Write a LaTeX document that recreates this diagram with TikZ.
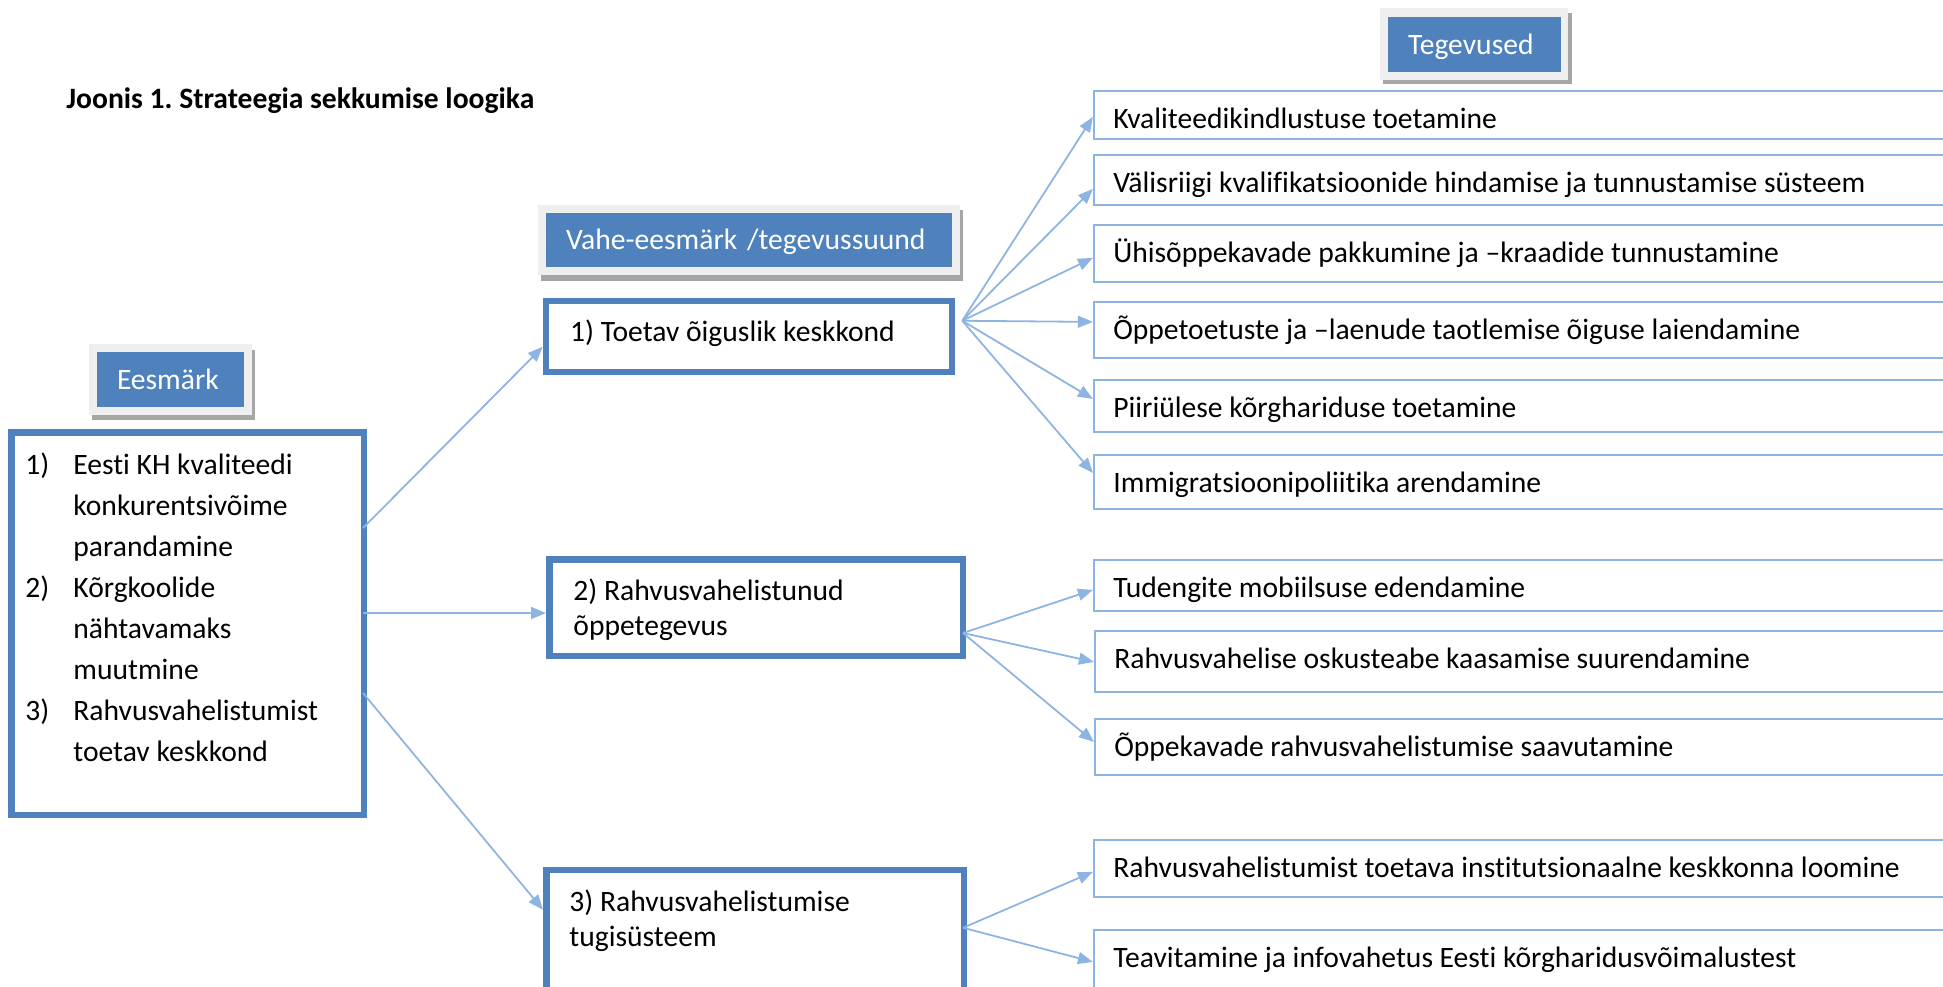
\documentclass[tikz,border=0pt]{standalone}
\usepackage{fontspec}
\setmainfont{Carlito}[Ligatures={NoCommon}]
\usepackage{tikz}
\usetikzlibrary{arrows.meta,calc,positioning,shapes}
\definecolor{accent}{HTML}{4F81BD}
\definecolor{lightacc}{HTML}{8EB4E3}
\definecolor{framegray}{HTML}{EFEFEF}
\definecolor{shadowgray}{HTML}{A6A6A6}
\frenchspacing
\tikzset{%
	headbox/.style = {rectangle, fill=accent, text=white, inner xsep=10pt, inner ysep=0pt, text height=9.5pt, text depth=0pt, align=left, font=\fontsize{14.8}{17}\selectfont},
	mainbox/.style = {rectangle, draw=accent, line width=3.25pt, fill=white, inner sep=0pt},
	taskbox/.style = {rectangle, draw=lightacc, line width=1.1pt, fill=white, inner sep=0pt, minimum width=453pt},
	boxtext/.style = {anchor=base west, inner sep=0pt, font=\fontsize{14.8}{17.5}\selectfont},
	link/.style    = {draw=lightacc, line width=0.9pt, -{Triangle[length=7.5pt,width=6pt]}},
}
\begin{document}
\begin{tikzpicture}[x=0.5pt,y=-0.5pt]
	\useasboundingbox (0,0) rectangle (1943,986);
	\clip (0,0) rectangle (1943,986);
	\node[anchor=base west, inner sep=0pt, font=\bfseries\fontsize{14.8}{17}\selectfont] (title) at (66,108) {Joonis 1. Strateegia sekkumise loogika};
	% headers
	\fill[shadowgray] (92,350) rectangle (255,420);
	\fill[framegray] (89,344) rectangle (252,415);
	\node[headbox, minimum width=73.5pt, minimum height=27.5pt, text width=53.5pt] (hgoal) at (170.5,379.5) {Eesmärk};
	\fill[shadowgray] (541,210) rectangle (963,281);
	\fill[framegray] (538,205) rectangle (960,275);
	\node[headbox, minimum width=203pt, minimum height=27pt, text width=183pt] (hsub) at (749,240) {Vahe-eesmärk /tegevussuund};
	\fill[shadowgray] (1383,13) rectangle (1572,84);
	\fill[framegray] (1380,8) rectangle (1568,80);
	\node[headbox, minimum width=86.5pt, minimum height=27.5pt, text width=66.5pt] (hact) at (1474.5,44.5) {Tegevused};
	% goal
	\node[mainbox, minimum width=176.25pt, minimum height=191.25pt] (goal) at (187.5,623.5) {};
	\node[boxtext, font=\fontsize{14.8}{20.5}\selectfont] (goaltxt) at ($(goal.north west)+(17,45)$) {%
		\begin{tabular}[t]{@{}p{24pt}@{}l@{}}
			1) & Eesti KH kvaliteedi\\
			   & konkurentsivõime\\
			   & parandamine\\
			2) & Kõrgkoolide\\
			   & nähtavamaks\\
			   & muutmine\\
			3) & Rahvusvahelistumist\\
			   & toetav keskkond
		\end{tabular}};
	% sub-goals
	\node[mainbox, minimum width=203pt, minimum height=35.5pt] (b1) at (749,336.5) {};
	\node[boxtext] (b1txt) at ($(b1.north west)+(27,44)$) {1) Toetav õiguslik keskkond};
	\node[mainbox, minimum width=206.75pt, minimum height=48.25pt] (b2) at (756,607.5) {};
	\node[boxtext] (b2txt) at ($(b2.north west)+(27,44)$) {\begin{tabular}[t]{@{}l@{}}2) Rahvusvahelistunud\\õppetegevus\end{tabular}};
	\node[mainbox, minimum width=208.75pt, minimum height=70pt] (b3) at (755,940) {};
	\node[boxtext] (b3txt) at ($(b3.north west)+(26,45)$) {\begin{tabular}[t]{@{}l@{}}3) Rahvusvahelistumise\\tugisüsteem\end{tabular}};
	% activities
	\node[taskbox, minimum height=24pt] (t1) at (1547,115) {};
	\node[taskbox, minimum height=25pt] (t2) at (1547,180) {};
	\node[taskbox, minimum height=28.5pt] (t3) at (1547,253.5) {};
	\node[taskbox, minimum height=28pt] (t4) at (1547,330) {};
	\node[taskbox, minimum height=26pt] (t5) at (1547,406) {};
	\node[taskbox, minimum height=27pt] (t6) at (1547,482) {};
	\node[taskbox, minimum height=25.5pt] (t7) at (1547,585.5) {};
	\node[taskbox, minimum height=30.5pt] (t8) at (1548,661.5) {};
	\node[taskbox, minimum height=28pt] (t9) at (1548,747) {};
	\node[taskbox, minimum height=28.5pt] (t10) at (1547,868.5) {};
	\node[taskbox, minimum height=39.5pt] (t11) at (1547,969.5) {};
	\node[boxtext] (t1txt) at ($(t1.north west)+(20,39)$) {Kvaliteedikindlustuse toetamine};
	\node[boxtext] (t2txt) at ($(t2.north west)+(20,39)$) {Välisriigi kvalifikatsioonide hindamise ja tunnustamise süsteem};
	\node[boxtext] (t3txt) at ($(t3.north west)+(20,39)$) {Ühisõppekavade pakkumine ja –kraadide tunnustamine};
	\node[boxtext] (t4txt) at ($(t4.north west)+(20,39)$) {Õppetoetuste ja –laenude taotlemise õiguse laiendamine};
	\node[boxtext] (t5txt) at ($(t5.north west)+(20,39)$) {Piiriülese kõrghariduse toetamine};
	\node[boxtext] (t6txt) at ($(t6.north west)+(20,39)$) {Immigratsioonipoliitika arendamine};
	\node[boxtext] (t7txt) at ($(t7.north west)+(20,39)$) {Tudengite mobiilsuse edendamine};
	\node[boxtext] (t8txt) at ($(t8.north west)+(20,39)$) {Rahvusvahelise oskusteabe kaasamise suurendamine};
	\node[boxtext] (t9txt) at ($(t9.north west)+(20,39)$) {Õppekavade rahvusvahelistumise saavutamine};
	\node[boxtext] (t10txt) at ($(t10.north west)+(20,39)$) {Rahvusvahelistumist toetava institutsionaalne keskkonna loomine};
	\node[boxtext] (t11txt) at ($(t11.north west)+(20,39)$) {Teavitamine ja infovahetus Eesti kõrgharidusvõimalustest};
	% connectors
	\coordinate (fan1) at ($(b1.north east)+(7,23)$);
	\coordinate (fan2) at ($(b2.north east)+(-3,77)$);
	\coordinate (fan3) at ($(b3.north east)+(-4,61)$);
	\draw[link] ($(goal.north east)+(-4,99)$) -- ($(b1.north west)+(0,49)$);
	\draw[link] ($(goal.north east)+(-4,184)$) -- ($(b2.north west)+(0,57)$);
	\draw[link] ($(goal.north east)+(-4,264)$) -- ($(b3.north west)+(0,43)$);
	\draw[link] (fan1) -- ($(t1.north west)+(0,27)$);
	\draw[link] (fan1) -- ($(t2.north west)+(0,35)$);
	\draw[link] (fan1) -- ($(t3.north west)+(0,34)$);
	\draw[link] (fan1) -- ($(t4.north west)+(0,21)$);
	\draw[link] (fan1) -- ($(t5.north west)+(0,20)$);
	\draw[link] (fan1) -- ($(t6.north west)+(0,19)$);
	\draw[link] (fan2) -- ($(t7.north west)+(0,31)$);
	\draw[link] (fan2) -- ($(t8.north west)+(0,32)$);
	\draw[link] (fan2) -- ($(t9.north west)+(0,24)$);
	\draw[link] (fan3) -- ($(t10.north west)+(0,33)$);
	\draw[link] (fan3) -- ($(t11.north west)+(0,33)$);
\end{tikzpicture}
\end{document}
